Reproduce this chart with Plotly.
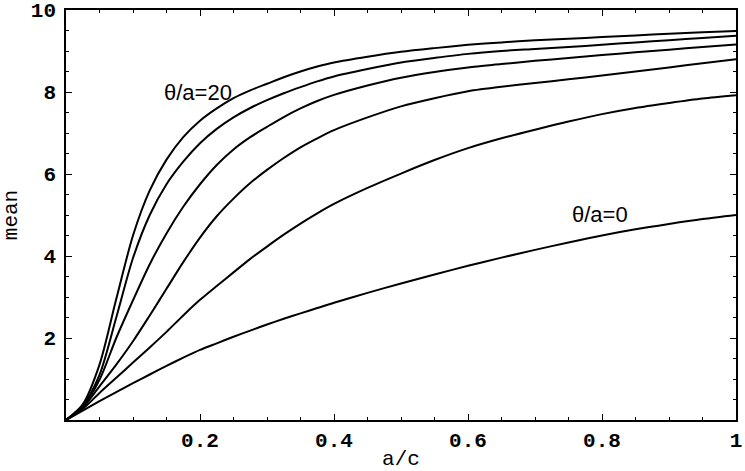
import plotly.graph_objects as go

# a/c sample points and mean values, one list per curve
ac = [0, 0.025, 0.05, 0.075, 0.1, 0.125, 0.15, 0.175, 0.2, 0.225, 0.25, 0.275,
      0.3, 0.325, 0.35, 0.375, 0.4, 0.45, 0.5, 0.55, 0.6, 0.65, 0.7, 0.75,
      0.8, 0.85, 0.9, 0.95, 1.0]

mean_20 = [0, 0.38, 1.35, 2.95, 4.5, 5.6, 6.35, 6.9, 7.3, 7.6, 7.85, 8.04,
           8.2, 8.36, 8.5, 8.62, 8.72, 8.86, 8.98, 9.07, 9.15, 9.21, 9.26, 9.3,
           9.34, 9.38, 9.42, 9.46, 9.49]
mean_10 = [0, 0.35, 1.1, 2.5, 3.95, 5.0, 5.75, 6.3, 6.75, 7.1, 7.38, 7.61,
           7.8, 7.97, 8.12, 8.26, 8.38, 8.56, 8.72, 8.83, 8.93, 9.0, 9.05, 9.1,
           9.15, 9.21, 9.26, 9.32, 9.37]
mean_5 = [0, 0.33, 0.98, 2.0, 2.92, 3.8, 4.55, 5.2, 5.75, 6.22, 6.6, 6.9,
          7.15, 7.39, 7.6, 7.78, 7.93, 8.16, 8.35, 8.49, 8.6, 8.68, 8.76, 8.83,
          8.9, 8.97, 9.03, 9.1, 9.16]
mean_2 = [0, 0.3, 0.82, 1.35, 1.92, 2.55, 3.2, 3.85, 4.45, 4.97, 5.4, 5.78,
          6.1, 6.39, 6.65, 6.87, 7.07, 7.38, 7.65, 7.85, 8.02, 8.13, 8.22, 8.31,
          8.4, 8.5, 8.6, 8.7, 8.8]
mean_1 = [0, 0.27, 0.66, 1.03, 1.4, 1.77, 2.15, 2.55, 2.93, 3.27, 3.6, 3.93,
          4.23, 4.52, 4.79, 5.04, 5.27, 5.66, 6.01, 6.34, 6.63, 6.87, 7.08, 7.28,
          7.46, 7.61, 7.73, 7.84, 7.92]
mean_0 = [0, 0.23, 0.46, 0.68, 0.9, 1.11, 1.32, 1.52, 1.71, 1.87, 2.03, 2.18,
          2.33, 2.47, 2.6, 2.73, 2.86, 3.1, 3.33, 3.55, 3.76, 3.96, 4.15, 4.33,
          4.5, 4.65, 4.78, 4.9, 5.0]

curves = {
    "θ/a=20": mean_20,
    "θ/a=10": mean_10,
    "θ/a=5": mean_5,
    "θ/a=2": mean_2,
    "θ/a=1": mean_1,
    "θ/a=0": mean_0,
}

x_ticks = [0.2, 0.4, 0.6, 0.8, 1]
x_ticktext = ["0.2", "0.4", "0.6", "0.8", "1"]
y_ticks = [2, 4, 6, 8, 10]
y_ticktext = ["2", "4", "6", "8", "10"]

mono = dict(family="Liberation Mono, Courier New, monospace", size=21, color="black")
mono_bold = dict(mono, weight="bold")
sans = dict(family="Liberation Sans, Arial, sans-serif", size=22, color="black")

fig = go.Figure()
for name, values in curves.items():
    fig.add_trace(
        go.Scatter(
            x=ac,
            y=values,
            name=name,
            mode="lines",
            line=dict(color="black", width=2, shape="spline", smoothing=0.8),
        )
    )

axis_common = dict(
    showgrid=False,
    zeroline=False,
    showline=True,
    linecolor="black",
    linewidth=1.5,
    mirror="ticks",
    ticks="inside",
    ticklen=6,
    tickwidth=1,
    tickcolor="black",
    tickfont=mono_bold,
)

fig.update_xaxes(
    range=[0, 1],
    tickmode="array",
    tickvals=x_ticks,
    ticktext=x_ticktext,
    minor=dict(tick0=0, dtick=0.05, ticks="inside", ticklen=3.5, tickcolor="black"),
    title=dict(text="a/c", font=mono, standoff=4),
    **axis_common,
)
fig.update_yaxes(
    range=[0, 10],
    tickmode="array",
    tickvals=y_ticks,
    ticktext=y_ticktext,
    ticklabelstandoff=4,
    minor=dict(tick0=0, dtick=0.5, ticks="inside", ticklen=3.5, tickcolor="black"),
    title=dict(text="mean", font=mono, standoff=8),
    **axis_common,
)

fig.add_annotation(x=0.197, y=8.0, text="θ/a=20", showarrow=False, font=sans)
fig.add_annotation(x=0.797, y=5.02, text="θ/a=0", showarrow=False, font=sans)

fig.update_layout(
    width=745,
    height=471,
    showlegend=False,
    plot_bgcolor="white",
    paper_bgcolor="white",
    margin=dict(l=66, r=9, t=10, b=51, autoexpand=False),
)

# the page's default body margin would shift the figure by 8px
fig.write_html(
    "out.html",
    config={"displayModeBar": False},
    post_script="document.body.style.margin = '0';",
)
